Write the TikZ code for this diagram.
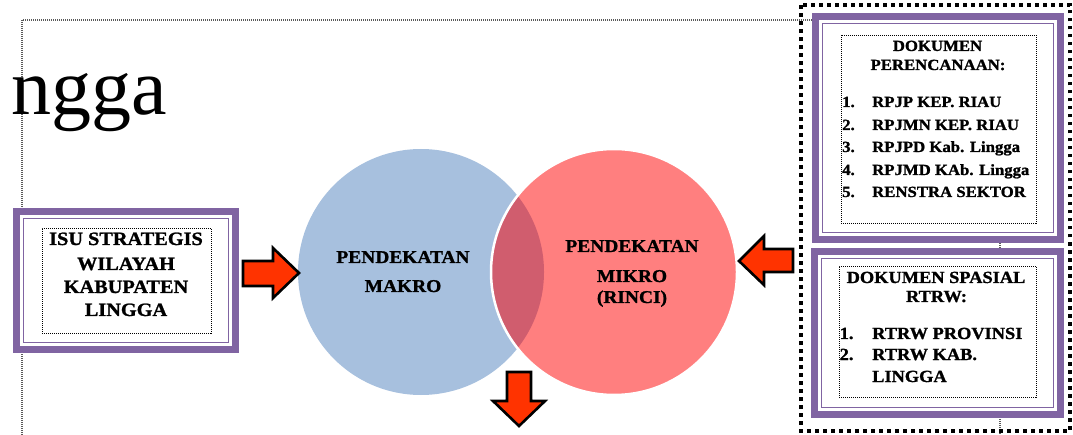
\documentclass[tikz,border=0pt]{standalone}
\usepackage{fontspec}
\setmainfont{Liberation Serif}
\newfontfamily\boxfont[FakeStretch=1.08, BoldFeatures={FakeBold=1.2}]{Liberation Serif}
\definecolor{purp}{HTML}{8064A2}
\definecolor{blueC}{HTML}{A7C0DE}
\definecolor{redC}{HTML}{FF7F7F}
\definecolor{interC}{HTML}{D05D6E}
\definecolor{arrowC}{HTML}{FF3300}
\definecolor{frameC}{HTML}{5A5A5A}
\tikzset{
  bandbox/.style={draw=purp, line width=7pt, fill=white, inner sep=0pt},
  thinline/.style={draw=purp, line width=1.5pt},
  dotbox/.style={draw=black, line width=0.8pt, dash pattern=on 1pt off 1pt, inner sep=0pt},
  txt/.style={font={\boxfont\bfseries\fontsize{#1}{#1}\selectfont}, inner sep=0pt, anchor=base},
  ltxt/.style={txt=#1, anchor=base west},
  blockarrow/.style={draw=black, line width=2.6pt, fill=arrowC, line join=miter},
}
\begin{document}
\begin{tikzpicture}[x=1pt,y=-1pt]
\useasboundingbox (0,0) rectangle (1073,435);
\clip (0,0) rectangle (1073,435);
% background frame
\draw[frameC, line width=1.1pt, dash pattern=on 1pt off 1pt] (22,20) rectangle (1000,460);
% big title fragment
\node[font=\fontsize{80}{80}\selectfont, inner sep=0pt, anchor=base east] (title) at (167,115) {ngga};
% black dotted group frame
\draw[black, line width=4pt, dash pattern=on 3.6pt off 4.4pt] (800.5,5.3) rectangle (1070.3,430.5);

% left box
\node[bandbox, minimum width=219pt, minimum height=138pt] (isu) at (126,280.5) {};
\draw[thinline] ([shift={(10.5,10.5)}]isu.north west) rectangle ([shift={(-10.5,-10.5)}]isu.south east);
\node[dotbox, minimum width=169pt, minimum height=105pt] (isuin) at (126.5,280.5) {};
\node[txt=18.8] (isu1) at (126,245) {ISU STRATEGIS};
\node[txt=18.8] (isu2) at (126,270) {WILAYAH};
\node[txt=18.8] (isu3) at (126,293) {KABUPATEN};
\node[txt=18.8] (isu4) at (126,316) {LINGGA};

% circles
\fill[blueC] (421,272) circle (123pt);
\fill[redC] (614,272) circle (123pt);
\begin{scope}
  \clip (421,272) circle (123pt);
  \fill[interC] (614,272) circle (123pt);
\end{scope}
\draw[white, line width=2.5pt] (614,272) circle (123pt);
\node[txt=18] (mak1) at (403,263) {PENDEKATAN};
\node[txt=18] (mak2) at (403,292) {MAKRO};
\node[txt=18] (mik1) at (632,252) {PENDEKATAN};
\node[txt=18] (mik2) at (632,282) {MIKRO};
\node[txt=18] (mik3) at (632,303) {(RINCI)};

% top right box
\node[bandbox, minimum width=245pt, minimum height=223pt] (doc) at (938,128) {};
\draw[thinline] ([shift={(10.5,10.5)}]doc.north west) rectangle ([shift={(-10.5,-10.5)}]doc.south east);
\node[dotbox, minimum width=195pt, minimum height=188pt] (docin) at (938.5,129) {};
\node[txt=15.5] (doch1) at (937.5,51) {DOKUMEN};
\node[txt=15.5] (doch2) at (938,70) {PERENCANAAN:};
\node[ltxt=15.5] (n1) at (842,107) {1.};
\node[ltxt=15.5] (d1) at (872,107) {RPJP KEP. RIAU};
\node[ltxt=15.5] (n2) at (842,130) {2.};
\node[ltxt=15.5] (d2) at (872,130) {RPJMN KEP. RIAU};
\node[ltxt=15.5] (n3) at (842,152) {3.};
\node[ltxt=15.5] (d3) at (872,152) {RPJPD Kab. Lingga};
\node[ltxt=15.5] (n4) at (842,175) {4.};
\node[ltxt=15.5] (d4) at (872,175) {RPJMD KAb. Lingga};
\node[ltxt=15.5] (n5) at (842,197) {5.};
\node[ltxt=15.5] (d5) at (872,197) {RENSTRA SEKTOR};

% bottom right box
\node[bandbox, minimum width=246pt, minimum height=163pt] (sp) at (937.5,333) {};
\draw[thinline] ([shift={(10.5,10.5)}]sp.north west) rectangle ([shift={(-10.5,-10.5)}]sp.south east);
\node[dotbox, minimum width=197pt, minimum height=131pt] (spin) at (937.5,331.5) {};
\node[txt=17] (sph1) at (936,283) {DOKUMEN SPASIAL};
\node[txt=17] (sph2) at (936.5,302) {RTRW:};
\node[ltxt=17] (s1n) at (839.5,339) {1.};
\node[ltxt=17] (s1) at (872,339) {RTRW PROVINSI};
\node[ltxt=17] (s2n) at (839.5,360) {2.};
\node[ltxt=17] (s2) at (872,360) {RTRW KAB.};
\node[ltxt=17] (s3) at (872,382) {LINGGA};

% block arrows
\draw[blockarrow] (299,273) -- (273,248) -- (273,261) -- (243,261) -- (243,286) -- (273,286) -- (273,298) -- cycle;
\draw[blockarrow] (739,261) -- (764,236) -- (764,249) -- (793,249) -- (793,272) -- (764,272) -- (764,285) -- cycle;
\draw[blockarrow] (519,426) -- (493,401) -- (507,401) -- (507,372) -- (531,372) -- (531,401) -- (545,401) -- cycle;
\end{tikzpicture}
\end{document}
